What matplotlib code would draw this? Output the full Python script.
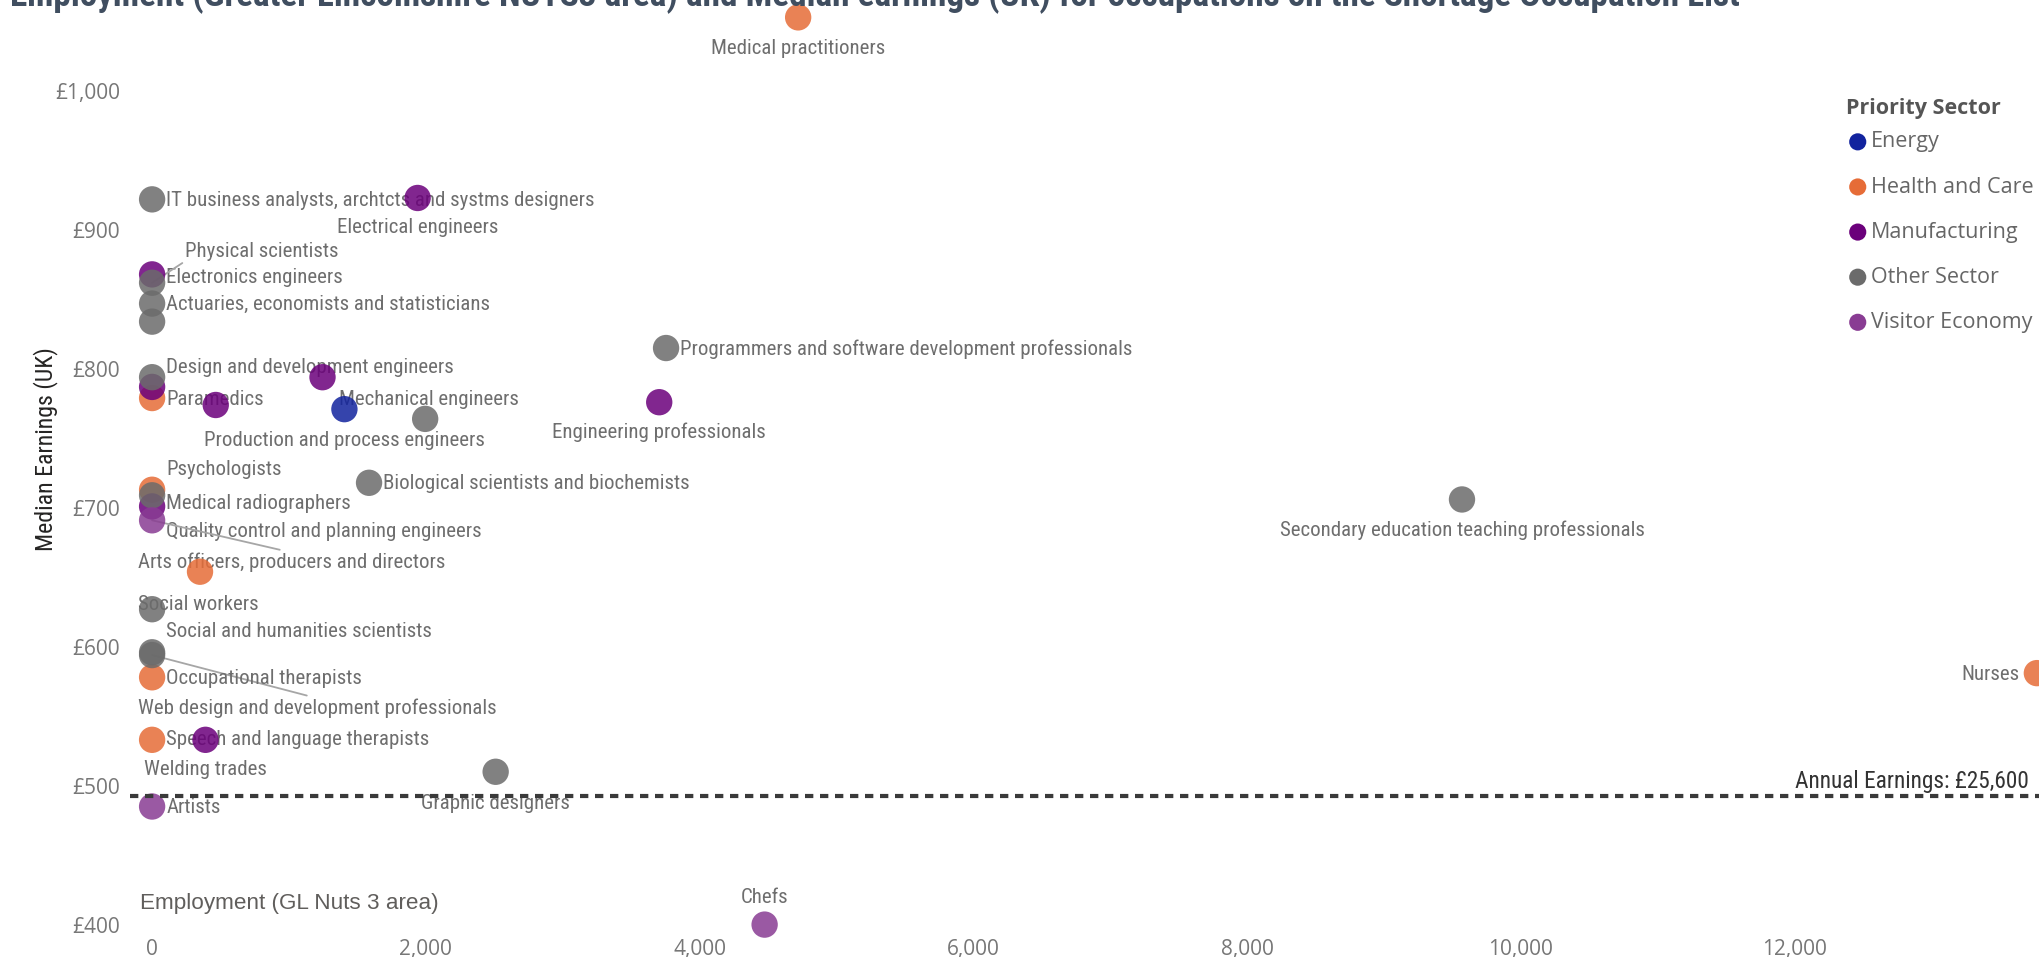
import matplotlib.pyplot as plt
from matplotlib import font_manager
from matplotlib.ticker import FuncFormatter

# Shortage Occupation List: employment in the area vs UK median weekly earnings
occupations = [
    "Medical practitioners",
    "IT business analysts, archtcts and systms designers",
    "Electrical engineers",
    "Electronics engineers",
    "Physical scientists",
    "Actuaries, economists and statisticians",
    "",
    "Design and development engineers",
    "",
    "Paramedics",
    "Mechanical engineers",
    "",
    "Production and process engineers",
    "",
    "Programmers and software development professionals",
    "Engineering professionals",
    "Medical radiographers",
    "Psychologists",
    "Quality control and planning engineers",
    "Arts officers, producers and directors",
    "Biological scientists and biochemists",
    "Secondary education teaching professionals",
    "",
    "Social workers",
    "Social and humanities scientists",
    "Web design and development professionals",
    "Occupational therapists",
    "Speech and language therapists",
    "Welding trades",
    "Graphic designers",
    "Artists",
    "Chefs",
    "Nurses",
]
sectors = [
    "Health and Care", "Other Sector", "Manufacturing", "Manufacturing", "Other Sector",
    "Other Sector", "Other Sector", "Other Sector", "Manufacturing", "Health and Care",
    "Manufacturing", "Manufacturing", "Energy", "Other Sector", "Other Sector",
    "Manufacturing", "Health and Care", "Other Sector", "Manufacturing", "Visitor Economy",
    "Other Sector", "Other Sector", "Health and Care", "Other Sector", "Other Sector",
    "Other Sector", "Health and Care", "Health and Care", "Manufacturing", "Other Sector",
    "Visitor Economy", "Visitor Economy", "Health and Care",
]
employment = [
    4720, 0, 1940, 0, 0,
    0, 0, 0, 0, 0,
    1245, 465, 1405, 1995, 3755,
    3705, 0, 0, 0, 0,
    1585, 9570, 350, 0, 0,
    0, 0, 0, 390, 2510,
    0, 4475, 13770,
]
earnings = [
    1053, 922, 923, 868, 862,
    847, 834, 794, 787, 779,
    794, 774, 771, 764, 815,
    776, 713, 709, 701, 691,
    718, 706, 654, 627, 596,
    594, 578, 533, 533, 510,
    485, 400, 581,
]

sector_order = ["Energy", "Health and Care", "Manufacturing", "Other Sector", "Visitor Economy"]
sector_colors = {
    "Energy": "#12239E",
    "Health and Care": "#E66C37",
    "Manufacturing": "#6B007B",
    "Other Sector": "#6B6B6B",
    "Visitor Economy": "#893C93",
}

annual_threshold = 25600
weekly_threshold = annual_threshold / 52

# label placement: pixel offset from the dot and horizontal alignment
label_pos = {
    "Medical practitioners": (0, -31, "center"),
    "IT business analysts, archtcts and systms designers": (14, -1, "left"),
    "Electrical engineers": (0, -30, "center"),
    "Electronics engineers": (14, -3, "left"),
    "Physical scientists": (33, 31, "left"),
    "Actuaries, economists and statisticians": (14, -1, "left"),
    "Design and development engineers": (14, 10, "left"),
    "Paramedics": (14, -1, "left"),
    "Mechanical engineers": (16, -22, "left"),
    "Production and process engineers": (0, -31, "center"),
    "Programmers and software development professionals": (14, -1, "left"),
    "Engineering professionals": (0, -30, "center"),
    "Medical radiographers": (14, -14, "left"),
    "Psychologists": (14, 26, "left"),
    "Quality control and planning engineers": (14, -25, "left"),
    "Arts officers, producers and directors": (-14, -42, "left"),
    "Biological scientists and biochemists": (14, -1, "left"),
    "Secondary education teaching professionals": (0, -31, "center"),
    "Social workers": (-14, 5, "left"),
    "Social and humanities scientists": (14, 21, "left"),
    "Web design and development professionals": (-14, -53, "left"),
    "Occupational therapists": (14, -1, "left"),
    "Speech and language therapists": (14, 0, "left"),
    "Welding trades": (0, -30, "center"),
    "Graphic designers": (0, -32, "center"),
    "Artists": (14, -1, "left"),
    "Chefs": (0, 27, "center"),
    "Nurses": (-17, -1, "right"),
}
# labels pushed away from their dot get a leader line (anchor point on the text box)
leaders = {
    "Physical scientists": (0.0, 0.0),
    "Arts officers, producers and directors": (0.5, 1.0),
    "Web design and development professionals": (0.5, 1.0),
}

installed = {f.name for f in font_manager.fontManager.ttflist}
narrow_name = next((n for n in ["Roboto Condensed", "Liberation Sans Narrow", "Open Sans Condensed"]
                    if n in installed), None)
narrow = [narrow_name or "Roboto", "DejaVu Sans"]
# a condensed face can take a larger size in the same width
label_size = 15 if narrow_name else 13.2
regular = ["Open Sans", "DejaVu Sans"]

W, H = 2039, 957
fig = plt.figure(figsize=(W / 100, H / 100), dpi=100)
ax_left, ax_bottom = 130, 935
ax = fig.add_axes([ax_left / W, (H - ax_bottom) / H, 1 - ax_left / W, ax_bottom / H])

x_px = (1794.6 - 152.1) / 12000
y_px = (924.6 - 91.0) / 600
ax.set_xlim(-(152.1 - ax_left) / x_px, (W - 152.1) / x_px)
ax.set_ylim(1000 - (ax_bottom - 91.0) / y_px, 1000 + 91.0 / y_px)

for sector in sector_order:
    xs = [e for e, s in zip(employment, sectors) if s == sector]
    ys = [v for v, s in zip(earnings, sectors) if s == sector]
    ax.scatter(xs, ys, s=360, color=sector_colors[sector], alpha=0.85,
               edgecolors="none", zorder=3, clip_on=False, label=sector)

for name, x, y in zip(occupations, employment, earnings):
    if not name:
        continue
    dx, dy, ha = label_pos[name]
    arrow = None
    if name in leaders:
        arrow = dict(arrowstyle="-", color="#A6A6A6", lw=1.3, shrinkA=0, shrinkB=0,
                     relpos=leaders[name])
    ax.annotate(name, (x, y), xytext=(dx, dy), textcoords="offset pixels",
                ha=ha, va="center", fontsize=label_size, family=narrow, color="#6E6E6E",
                arrowprops=arrow, zorder=1)

# threshold for the annual earnings requirement
ax.axhline(weekly_threshold, color="#3A3A3A", lw=3, dashes=(2.0, 1.6), zorder=5)
ax.annotate(f"Annual Earnings: £{annual_threshold:,}", (1, weekly_threshold),
            xycoords=("axes fraction", "data"), xytext=(-10, 15), textcoords="offset pixels",
            ha="right", va="center", fontsize=label_size * 1.12, family=narrow,
            color="#333333", zorder=6)

ax.set_yticks(range(400, 1001, 100))
ax.set_xticks(range(0, 12001, 2000))
ax.yaxis.set_major_formatter(FuncFormatter(lambda v, p: f"£{v:,.0f}"))
ax.xaxis.set_major_formatter(FuncFormatter(lambda v, p: f"{v:,.0f}"))
ax.tick_params(length=0, labelsize=15, labelcolor="#777777")
ax.tick_params(axis="y", pad=7)
ax.tick_params(axis="x", pad=3)
for lab in ax.get_xticklabels() + ax.get_yticklabels():
    lab.set_family(regular)
for spine in ax.spines.values():
    spine.set_visible(False)
ax.patch.set_alpha(0)

fig.text(46 / W, 1 - 449 / H, "Median Earnings (UK)", rotation=90, ha="center", va="center",
         fontsize=label_size + 2.2, family=narrow, color="#252423")
fig.text(140 / W, 1 - 904 / H, "Employment (GL Nuts 3 area)", ha="left", va="center",
         fontsize=16.2, family=["Liberation Sans", "DejaVu Sans"], color="#605E5C")
fig.text(10 / W, 1 - 6 / H,
         "Employment (Greater Lincolnshire NUTS3 area) and Median earnings (UK) for "
         "occupations on the Shortage Occupation List",
         ha="left", va="baseline", fontsize=label_size * 1.69, fontweight="bold", family=narrow,
         color="#404E60")

leg = fig.legend(loc="upper left", bbox_to_anchor=(1846 / W, 1 - 98 / H), frameon=False,
                 title="Priority Sector", alignment="left", markerscale=0.65,
                 handlelength=1.09, handletextpad=0.05, labelspacing=1.12, borderpad=0,
                 borderaxespad=0, prop={"family": regular, "size": 15.5},
                 title_fontproperties={"family": regular, "size": 15.5, "weight": "bold"})
leg._legend_box.sep = 9
leg.get_title().set_color("#555555")
for t in leg.get_texts():
    t.set_color("#666666")
for h in leg.legend_handles:
    h.set_alpha(1)

fig.savefig("out.png", dpi=100)
